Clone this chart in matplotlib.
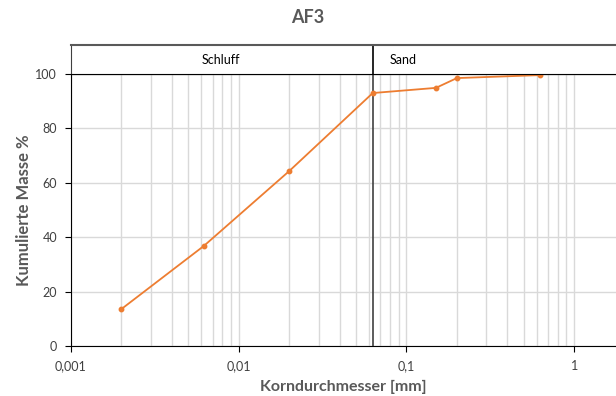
import numpy as np
import matplotlib.pyplot as plt
from matplotlib.ticker import FixedLocator, NullFormatter

plt.rcParams['font.family'] = ['Lato', 'DejaVu Sans']

# sieve data
diameter = [0.002, 0.0062, 0.02, 0.063, 0.15, 0.2, 0.63]
cum_mass = [13.6, 36.8, 64.3, 93.0, 94.9, 98.5, 99.6]

x_ticks = [0.001, 0.01, 0.1, 1]
x_labels = ["0,001", "0,01", "0,1", "1"]
y_ticks = [0, 20, 40, 60, 80, 100]

boundary = 0.063
classes = ["Schluff", "Sand"]
class_pos = [0.0078, 0.095]

orange = "#ED7D31"
gray_text = "#595959"

xmin, xmax = 0.001, 10 ** ((616 - 71) / 167.7 - 3)

fig = plt.figure(figsize=(6.16, 3.96), dpi=100)
ax = fig.add_axes([71 / 616, 50 / 396, 1 - 71 / 616, 272 / 396])
hx = fig.add_axes([71 / 616, 322 / 396, 1 - 71 / 616, 29 / 396])

minor = [m * 10.0 ** e for e in range(-3, 1) for m in range(2, 10)]
ax.set_xscale('log')
ax.set_xlim(xmin, xmax)
ax.set_ylim(0, 100)
ax.xaxis.set_major_locator(FixedLocator(x_ticks))
ax.set_xticklabels(x_labels)
ax.xaxis.set_minor_locator(FixedLocator(minor))
ax.xaxis.set_minor_formatter(NullFormatter())
ax.set_yticks(y_ticks)
ax.grid(True, which='both', axis='x', color='#d9d9d9', lw=1)
ax.grid(True, which='major', axis='y', color='#d9d9d9', lw=1)
ax.set_axisbelow(True)
ax.tick_params(axis='both', which='major', length=4, color='black', labelsize=9,
               labelcolor='#404040', pad=6)
ax.tick_params(axis='x', which='minor', length=0)
ax.spines['right'].set_visible(False)
for s in ['top', 'left', 'bottom']:
    ax.spines[s].set_color('black')

ax.axvline(boundary, color='#404040', lw=1.2, zorder=3)
ax.plot(diameter, cum_mass, color=orange, lw=1.3, marker='o', ms=3.2, zorder=4)

ax.set_xlabel("Korndurchmesser [mm]", fontsize=11.5, fontweight='bold', color=gray_text, labelpad=6)
ax.set_ylabel("Kumulierte Masse %", fontsize=12, fontweight='bold', color=gray_text)
ax.yaxis.set_label_coords(-0.072, 0.5)

hx.set_xscale('log')
hx.set_xlim(xmin, xmax)
hx.set_ylim(0, 1)
hx.set_xticks([])
hx.set_yticks([])
hx.minorticks_off()
hx.spines['right'].set_visible(False)
hx.spines['top'].set_color('#595959')
hx.spines['top'].set_linewidth(1.5)
hx.spines['left'].set_color('#404040')
hx.spines['bottom'].set_color('black')
hx.axvline(boundary, color='black', lw=1.2)
for name, pos in zip(classes, class_pos):
    hx.text(pos, 0.5, name, ha='center', va='center', fontsize=9, color='black')

fig.text(0.5, 0.955, "AF3", ha='center', va='center', fontsize=13, fontweight='bold', color=gray_text)

fig.savefig("out.png", dpi=100)
